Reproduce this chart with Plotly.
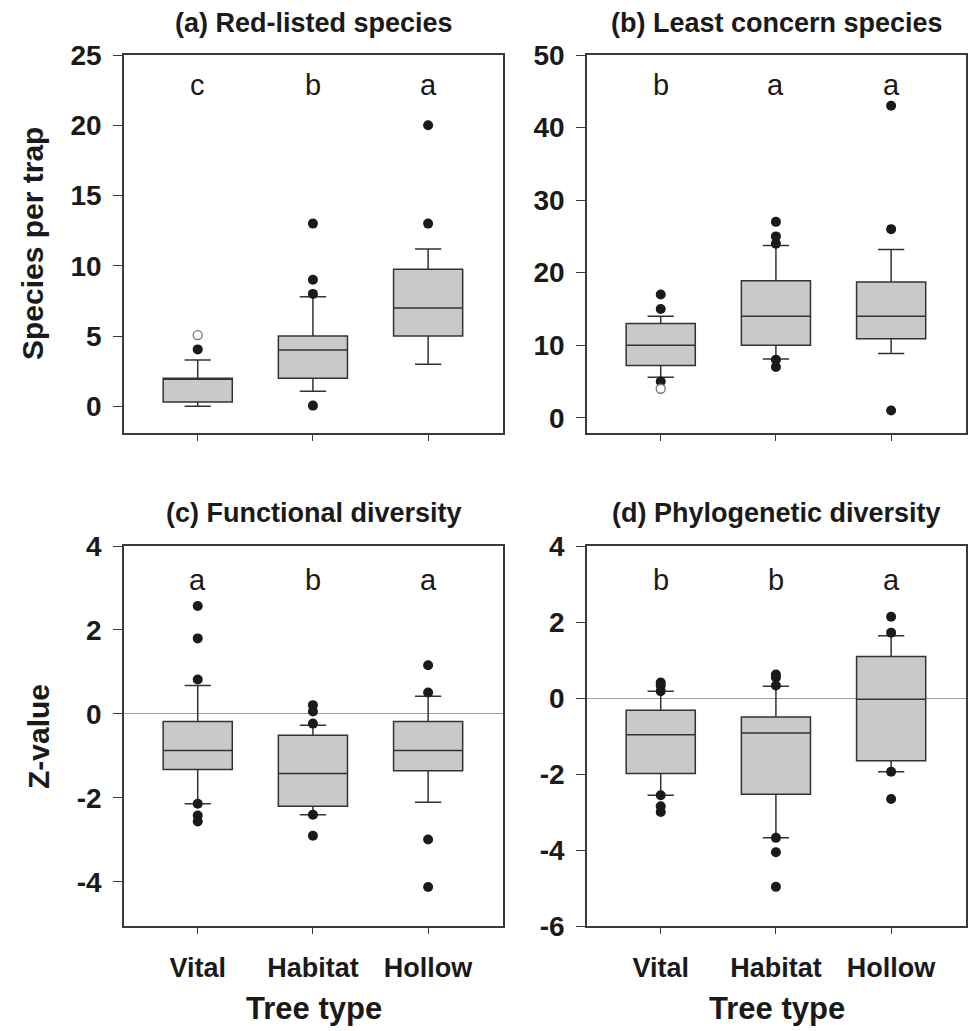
import plotly.graph_objects as go

W, H = 970, 1031

categories = ["Vital", "Habitat", "Hollow"]
xpos = [0, 1, 2]

# (a) Red-listed species
a_q1 = [0.3, 2.0, 5.0]
a_med = [2.0, 4.0, 7.0]
a_q3 = [2.0, 5.0, 9.75]
a_lo = [0.0, 1.07, 3.0]
a_hi = [3.3, 7.8, 11.2]
a_out = [[4.05], [0.05, 8.0, 9.0, 13.0], [13.0, 20.0]]
a_open = [[5.07], [], []]
a_letters = ["c", "b", "a"]

# (b) Least concern species
b_q1 = [7.2, 10.0, 10.9]
b_med = [10.0, 14.0, 14.0]
b_q3 = [13.0, 18.9, 18.7]
b_lo = [5.6, 8.1, 8.85]
b_hi = [14.0, 23.75, 23.2]
b_out = [[5.0, 15.0, 17.0], [7.0, 8.0, 24.0, 25.0, 27.0], [1.0, 26.0, 43.0]]
b_open = [[4.0], [], []]
b_letters = ["b", "a", "a"]

# (c) Functional diversity
c_q1 = [-1.32, -2.2, -1.35]
c_med = [-0.87, -1.42, -0.87]
c_q3 = [-0.18, -0.51, -0.18]
c_lo = [-2.14, -2.4, -2.1]
c_hi = [0.68, -0.27, 0.42]
c_out = [[2.57, 1.8, 0.82, -2.14, -2.42, -2.56],
         [0.21, 0.06, -0.23, -2.4, -2.9],
         [1.16, 0.51, -2.99, -4.12]]
c_open = [[], [], []]
c_letters = ["a", "b", "a"]

# (d) Phylogenetic diversity
d_q1 = [-1.99, -2.53, -1.65]
d_med = [-0.97, -0.92, -0.03]
d_q3 = [-0.32, -0.5, 1.09]
d_lo = [-2.56, -3.68, -1.94]
d_hi = [0.18, 0.31, 1.64]
d_out = [[0.41, 0.33, 0.18, -2.56, -2.85, -3.0],
         [0.62, 0.54, 0.33, -3.68, -4.06, -4.97],
         [2.14, 1.72, -1.94, -2.66]]
d_open = [[], [], []]
d_letters = ["b", "b", "a"]

titles = ["(a) Red-listed species", "(b) Least concern species",
          "(c) Functional diversity", "(d) Phylogenetic diversity"]
y_ranges = [[-1.9, 25], [-2.1, 50], [-5.05, 4], [-6, 4]]
y_ticks = [[0, 5, 10, 15, 20, 25], [0, 10, 20, 30, 40, 50],
           [-4, -2, 0, 2, 4], [-6, -4, -2, 0, 2, 4]]

panels = [
    (a_q1, a_med, a_q3, a_lo, a_hi, a_out, a_open, a_letters),
    (b_q1, b_med, b_q3, b_lo, b_hi, b_out, b_open, b_letters),
    (c_q1, c_med, c_q3, c_lo, c_hi, c_out, c_open, c_letters),
    (d_q1, d_med, d_q3, d_lo, d_hi, d_out, d_open, d_letters),
]

# layout geometry (pixels)
x_doms = [(124, 503), (587, 966)]
y_doms = [(55, 433), (546, 926)]

FONT = "Liberation Sans, Arial, sans-serif"
AX_COLOR = "#3a3a3a"

fig = go.Figure()
layout = dict(
    width=W, height=H, margin=dict(l=0, r=0, t=0, b=0),
    template="none", paper_bgcolor="white", plot_bgcolor="white",
    showlegend=False, font=dict(family=FONT, color="#1a1a1a"),
)
annotations = []

for i, (q1, med, q3, lo, hi, outs, opens, letters) in enumerate(panels):
    row, col = divmod(i, 2)
    n = i + 1
    xa = "x" if n == 1 else f"x{n}"
    ya = "y" if n == 1 else f"y{n}"
    xd = x_doms[col]
    yd = y_doms[row]
    bottom = row == 1

    fig.add_trace(go.Box(
        x=xpos, q1=q1, median=med, q3=q3, lowerfence=lo, upperfence=hi,
        xaxis=xa, yaxis=ya, width=0.6, whiskerwidth=0.38,
        fillcolor="#c8c9cb", line=dict(color="#333333", width=1.5),
        boxpoints=False, hoverinfo="skip",
    ))
    ox, oy = [], []
    for k, vals in enumerate(outs):
        for v in vals:
            ox.append(xpos[k]); oy.append(v)
    fig.add_trace(go.Scatter(
        x=ox, y=oy, mode="markers", xaxis=xa, yaxis=ya,
        marker=dict(size=10, color="#1a1a1a", line=dict(width=0)),
    ))
    px_, py_ = [], []
    for k, vals in enumerate(opens):
        for v in vals:
            px_.append(xpos[k]); py_.append(v)
    if px_:
        fig.add_trace(go.Scatter(
            x=px_, y=py_, mode="markers", xaxis=xa, yaxis=ya,
            marker=dict(size=9, color="white", line=dict(width=1.3, color="#777777")),
        ))

    xkey = "xaxis" if n == 1 else f"xaxis{n}"
    ykey = "yaxis" if n == 1 else f"yaxis{n}"
    layout[xkey] = dict(
        domain=[xd[0] / W, xd[1] / W], anchor=ya, range=[-0.64, 2.65],
        tickmode="array", tickvals=xpos,
        ticktext=categories if bottom else ["", "", ""],
        ticks="outside", ticklen=6, tickwidth=1.3, tickcolor=AX_COLOR,
        showline=True, linecolor=AX_COLOR, linewidth=1.5, mirror=True,
        showgrid=False, zeroline=False, automargin=False,
        tickfont=dict(family=FONT, size=27, weight="bold", color="#1a1a1a"),
        ticklabelstandoff=11,
    )
    layout[ykey] = dict(
        domain=[1 - yd[1] / H, 1 - yd[0] / H], anchor=xa, range=y_ranges[i],
        tickmode="array", tickvals=y_ticks[i],
        ticktext=[str(t) for t in y_ticks[i]],
        ticks="outside", ticklen=9, tickwidth=1.3, tickcolor=AX_COLOR,
        showline=True, linecolor=AX_COLOR, linewidth=1.5, mirror=True,
        showgrid=False, automargin=False,
        zeroline=bottom, zerolinecolor="#a0a0a0", zerolinewidth=1,
        tickfont=dict(family=FONT, size=28, weight="bold", color="#1a1a1a"),
        ticklabelstandoff=6,
    )

    # significance letters
    yref_dom = f"{ya} domain"
    for k, L in enumerate(letters):
        annotations.append(dict(
            x=xpos[k], y=1 - (30 if row == 0 else 34) / (yd[1] - yd[0]),
            xref=xa, yref=yref_dom, text=L, showarrow=False,
            font=dict(family=FONT, size=29, color="#1a1a1a"),
            xanchor="center", yanchor="middle",
        ))
    # panel titles
    annotations.append(dict(
        x=(xd[0] + xd[1]) / 2 / W, y=1 - (23 if row == 0 else 513) / H,
        xref="paper", yref="paper", text=titles[i], showarrow=False,
        font=dict(family=FONT, size=27, weight="bold", color="#1a1a1a"),
        xanchor="center", yanchor="middle",
    ))
    if bottom:
        annotations.append(dict(
            x=(xd[0] + xd[1]) / 2 / W, y=1 - 1008 / H,
            xref="paper", yref="paper", text="Tree type", showarrow=False,
            font=dict(family=FONT, size=31, weight="bold", color="#1a1a1a"),
            xanchor="center", yanchor="middle",
        ))

annotations.append(dict(
    x=33 / W, y=1 - 244 / H, xref="paper", yref="paper",
    text="Species per trap", textangle=-90, showarrow=False,
    font=dict(family=FONT, size=30, weight="bold", color="#1a1a1a"),
    xanchor="center", yanchor="middle",
))
annotations.append(dict(
    x=38 / W, y=1 - 737 / H, xref="paper", yref="paper",
    text="Z-value", textangle=-90, showarrow=False,
    font=dict(family=FONT, size=30, weight="bold", color="#1a1a1a"),
    xanchor="center", yanchor="middle",
))

layout["annotations"] = annotations
fig.update_layout(**layout)
fig.write_html("out.html")
